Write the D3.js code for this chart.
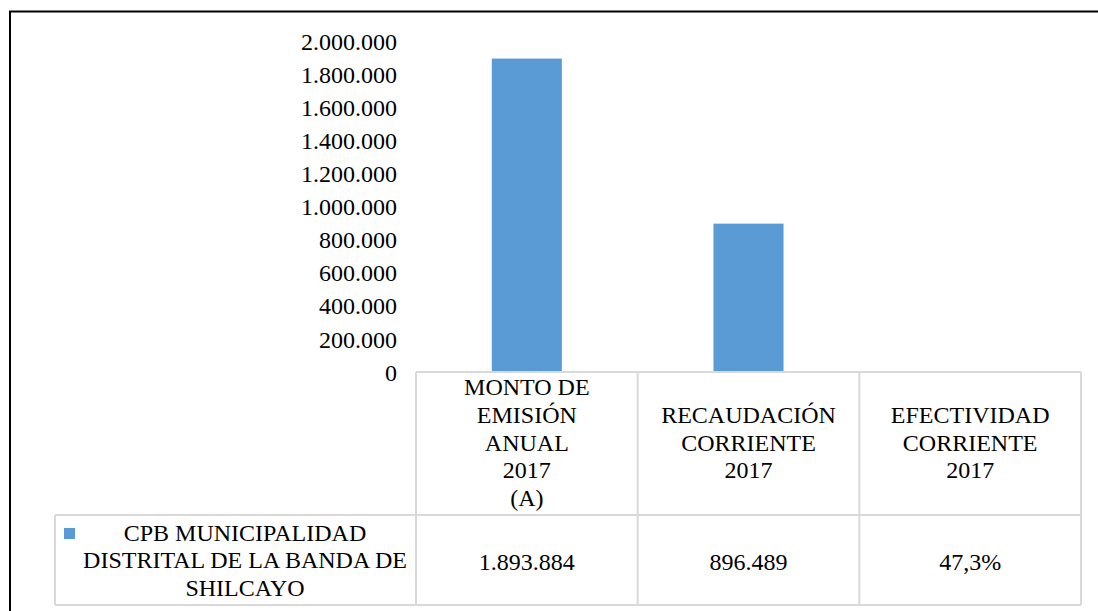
<!DOCTYPE html>
<html lang="es">

<head>
  <meta charset="UTF-8">
  <title>CPB Banda de Shilcayo</title>
  <script src="https://d3js.org/d3.v7.min.js"></script>
  <style>
    body {
      margin: 0;
      background: #fff;
    }

    svg text {
      font-family: "Liberation Serif", "Times New Roman", Times, Tinos, "DejaVu Serif", serif;
      font-size: 24px;
      fill: #000;
    }
  </style>
</head>

<body>
  <div id="chart"></div>
  <script>

    // data
    const categories = [
      ["MONTO DE", "EMISIÓN", "ANUAL", "2017", "(A)"],
      ["RECAUDACIÓN", "CORRIENTE", "2017"],
      ["EFECTIVIDAD", "CORRIENTE", "2017"]
    ];
    const values = [1893884, 896489, 0.473];
    const seriesName = ["CPB MUNICIPALIDAD", "DISTRITAL DE LA BANDA DE", "SHILCAYO"];
    const yTicks = [0, 200000, 400000, 600000, 800000, 1000000, 1200000, 1400000, 1600000, 1800000, 2000000];

    const width = 1098, height = 611;
    const plot = { left: 416, right: 1081, top: 41, bottom: 372 };
    const headerBottom = 515, tableBottom = 605, legendLeft = 55;
    const lineH = 27.6;
    const grid = "#d9d9d9";
    const barColor = "#5b9bd5";
    const serif = '"Liberation Serif", "Times New Roman", Times, Tinos, "DejaVu Serif", serif';

    const es = d3.formatLocale({ decimal: ",", thousands: ".", grouping: [3], currency: ["", ""] });
    const fmtNum = es.format(",.0f");
    const fmtPct = es.format(".1%");

    const svg = d3.select("#chart")
      .append("svg")
      .attr("width", width)
      .attr("height", height)
      .attr("font-family", serif)
      .attr("font-size", 24);

    // outer frame (only top and left visible)
    svg.append("path")
      .attr("d", `M10,${height} V11.5 H${width}`)
      .attr("fill", "none")
      .attr("stroke", "#000")
      .attr("stroke-width", 2);

    // scales
    const x = d3.scaleBand()
      .domain(d3.range(categories.length))
      .range([plot.left, plot.right])
      .padding(0);

    const y = d3.scaleLinear()
      .domain([0, 2000000])
      .range([plot.bottom, plot.top]);

    // y axis labels
    const yAxis = svg.append("g")
      .attr("transform", `translate(${plot.left - 19},0)`)
      .call(d3.axisLeft(y).tickValues(yTicks).tickFormat(fmtNum).tickSize(0).tickPadding(0));
    yAxis.attr("font-family", serif).attr("font-size", 24);
    yAxis.select(".domain").remove();
    yAxis.selectAll("text")
      .attr("dy", "0.34em");

    // bars
    const barW = x.bandwidth() * 0.316;
    svg.selectAll(".bar")
      .data(values)
      .join("rect")
      .attr("class", "bar")
      .attr("x", (d, i) => x(i) + (x.bandwidth() - barW) / 2)
      .attr("y", d => y(d))
      .attr("width", barW)
      .attr("height", d => y(0) - y(d))
      .attr("fill", barColor);

    // data table grid
    const g = svg.append("g")
      .attr("stroke", grid)
      .attr("stroke-width", 2)
      .attr("fill", "none");

    g.append("line")
      .attr("x1", plot.left).attr("x2", plot.right)
      .attr("y1", plot.bottom).attr("y2", plot.bottom);
    g.append("line")
      .attr("x1", legendLeft).attr("x2", plot.right)
      .attr("y1", headerBottom).attr("y2", headerBottom);
    g.append("line")
      .attr("x1", legendLeft).attr("x2", plot.right)
      .attr("y1", tableBottom).attr("y2", tableBottom);
    g.append("line")
      .attr("x1", legendLeft).attr("x2", legendLeft)
      .attr("y1", headerBottom).attr("y2", tableBottom);

    const edges = d3.range(categories.length).map(i => x(i)).concat([plot.right]);
    g.selectAll(".vline")
      .data(edges)
      .join("line")
      .attr("x1", d => d).attr("x2", d => d)
      .attr("y1", plot.bottom).attr("y2", tableBottom);

    // header labels
    const headerMid = (plot.bottom + headerBottom) / 2 - 1;
    svg.selectAll(".cat")
      .data(categories)
      .join("text")
      .attr("class", "cat")
      .attr("text-anchor", "middle")
      .each(function (lines, i) {
        const t = d3.select(this);
        const cx = x(i) + x.bandwidth() / 2;
        const y0 = headerMid - (lines.length - 1) * lineH / 2;
        lines.forEach((s, k) => {
          t.append("tspan")
            .attr("x", cx)
            .attr("y", y0 + k * lineH)
            .attr("dy", "0.34em")
            .text(s);
        });
      });

    // values row
    const rowMid = (headerBottom + tableBottom) / 2;
    svg.selectAll(".val")
      .data(values)
      .join("text")
      .attr("class", "val")
      .attr("text-anchor", "middle")
      .attr("x", (d, i) => x(i) + x.bandwidth() / 2)
      .attr("y", rowMid + 2)
      .attr("dy", "0.34em")
      .text((d, i) => i === 2 ? fmtPct(d) : fmtNum(d));

    // legend key + series name
    svg.append("rect")
      .attr("x", 64)
      .attr("y", 528)
      .attr("width", 11)
      .attr("height", 11)
      .attr("fill", barColor);

    const leg = svg.append("text")
      .attr("text-anchor", "middle");
    seriesName.forEach((s, k) => {
      leg.append("tspan")
        .attr("x", 245)
        .attr("y", rowMid - (seriesName.length - 1) * lineH / 2 + k * lineH)
        .attr("dy", "0.34em")
        .text(s);
    });

  </script>
</body>

</html>
